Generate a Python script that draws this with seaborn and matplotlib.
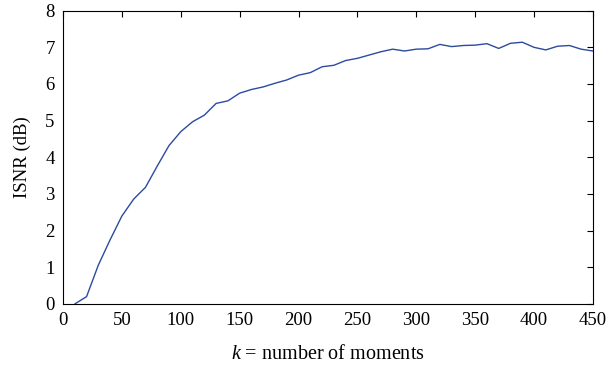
import matplotlib
matplotlib.use("Agg")
import matplotlib.pyplot as plt
import seaborn as sns
import pandas as pd

k_values = [10, 20, 30, 40, 50, 60, 70, 80, 90, 100, 110, 120, 130, 140, 150,
            160, 170, 180, 190, 200, 210, 220, 230, 240, 250, 260, 270, 280,
            290, 300, 310, 320, 330, 340, 350, 360, 370, 380, 390, 400, 410,
            420, 430, 440, 450]
isnr_db = [0.0, 0.2, 1.06, 1.75, 2.4, 2.86, 3.18, 3.76, 4.32, 4.70, 4.97, 5.15,
           5.47, 5.54, 5.75, 5.85, 5.92, 6.02, 6.11, 6.24, 6.31, 6.47, 6.51,
           6.64, 6.70, 6.79, 6.88, 6.95, 6.90, 6.95, 6.96, 7.08, 7.02, 7.05,
           7.06, 7.10, 6.97, 7.11, 7.14, 7.0, 6.93, 7.03, 7.05, 6.95, 6.90]
x_ticks = [0, 50, 100, 150, 200, 250, 300, 350, 400, 450]
y_ticks = [0, 1, 2, 3, 4, 5, 6, 7, 8]

sns.set_theme(style="white")
plt.rcParams['font.family'] = ['Liberation Serif', 'DejaVu Serif']
plt.rcParams['mathtext.fontset'] = 'custom'
plt.rcParams['mathtext.it'] = 'Liberation Serif:italic'
plt.rcParams['mathtext.rm'] = 'Liberation Serif'

df = pd.DataFrame({"k": k_values, "isnr": isnr_db})

fig = plt.figure(figsize=(6.1, 3.68), dpi=100)
ax = fig.add_axes([0.1033, 0.174, 0.8687, 0.797])
sns.lineplot(data=df, x="k", y="isnr", ax=ax, color="#2b4ba0", linewidth=1.0)

ax.set_xlim(0, 450)
ax.set_ylim(0, 8)
ax.set_xticks(x_ticks)
ax.set_yticks(y_ticks)
ax.tick_params(direction="in", top=True, right=True, length=4, width=0.8,
               labelsize=13.5, color="black", labelcolor="black", pad=6)
for s in ax.spines.values():
    s.set_color("black")
    s.set_linewidth(0.8)
ax.set_xlabel(r"$k$ = number of moments", fontsize=14.5, color="black", labelpad=11)
ax.set_ylabel("ISNR (dB)", fontsize=13.5, color="black", labelpad=10)

fig.savefig("out.png", dpi=100)
